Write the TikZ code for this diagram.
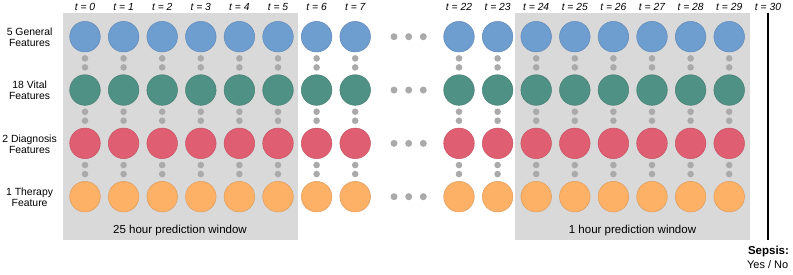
\documentclass[tikz,border=0pt]{standalone}
\usepackage{fontspec}
\setmainfont{Liberation Sans}
\usepackage{xcolor}
\usetikzlibrary{calc, positioning}

\definecolor{generalblue}{HTML}{6E9DD0}
\definecolor{vitalgreen}{HTML}{4F9184}
\definecolor{diagred}{HTML}{E05E72}
\definecolor{therapyorange}{HTML}{FDB167}
\definecolor{windowgray}{HTML}{D9D9D9}
\definecolor{dotgray}{HTML}{AAAAAA}

\tikzset{
    feat/.style={circle, minimum size=30.6pt, inner sep=0pt, fill=#1, draw=#1!88!black, line width=0.5pt},
    gapdot/.style={circle, minimum size=6.6pt, inner sep=0pt, fill=dotgray},
    tlabel/.style={anchor=base, font=\fontsize{10.3}{12}\selectfont\itshape},
    rowlabel/.style={align=center, font=\fontsize{10.4}{11.3}\selectfont},
    winlabel/.style={anchor=base, font=\fontsize{11.5}{13}\selectfont}
}

\begin{document}
\begin{tikzpicture}[x=1pt, y=-1pt]
    \useasboundingbox (0,0) rectangle (793,275);

    \pgfmathsetmacro{\dx}{38.6}
    \pgfmathsetmacro{\dy}{53.33}
    \pgfmathsetmacro{\ytop}{36.7}

    % prediction windows
    \fill[windowgray] (63.3,13.3) rectangle (298.3,240.5);
    \fill[windowgray] (515.3,13.3) rectangle (750,240.5);

    \node[winlabel] (win25) at (180,234) {25 hour prediction window};
    \node[winlabel] (win1) at (632.5,234) {1 hour prediction window};

    % row labels
    \node[rowlabel] (lab0) at (29.6,\ytop+0.6) {5 General\\Features};
    \node[rowlabel] (lab1) at (29.6,\ytop+\dy+0.6) {18 Vital\\Features};
    \node[rowlabel] (lab2) at (29.6,\ytop+2*\dy+0.6) {2 Diagnosis\\Features};
    \node[rowlabel] (lab3) at (29.6,\ytop+3*\dy+0.6) {1 Therapy\\Feature};

    % time steps
    \foreach \t in {0,...,7,22,23,...,29} {
        \ifnum\t<22
            \pgfmathsetmacro{\x}{85+\t*\dx}
        \else
            \pgfmathsetmacro{\x}{459+(\t-22)*\dx}
        \fi
        \node[tlabel] (t\t) at (\x,10.3) {t = \t};
        \foreach \r/\col in {0/generalblue, 1/vitalgreen, 2/diagred, 3/therapyorange} {
            \node[feat=\col] (f\r-\t) at (\x,\ytop+\r*\dy) {};
        }
        \foreach \r in {0,1,2} {
            \node[gapdot] (ga\r-\t) at (\x,\ytop+\r*\dy+21.7) {};
            \node[gapdot] (gb\r-\t) at (\x,\ytop+\r*\dy+30.7) {};
        }
    }

    % skipped hours
    \foreach \r in {0,...,3} {
        \foreach \k/\x in {0/394, 1/408.7, 2/423.3} {
            \node[gapdot, minimum size=7pt] (skip\r-\k) at (\x,\ytop+\r*\dy) {};
        }
    }

    % outcome at t = 30
    \node[tlabel] (t30) at (768,10.3) {t = 30};
    \coordinate (endtop) at (768,12.7);
    \coordinate (endbot) at (768,240);
    \draw[line width=2.4pt] (endtop) -- (endbot);

    \node[winlabel, font=\fontsize{11.5}{13}\selectfont\bfseries] (sepsis) at (768.5,255) {Sepsis:};
    \node[winlabel, font=\fontsize{11}{13}\selectfont] (yesno) at (767.7,268.3) {Yes / No};

\end{tikzpicture}
\end{document}
